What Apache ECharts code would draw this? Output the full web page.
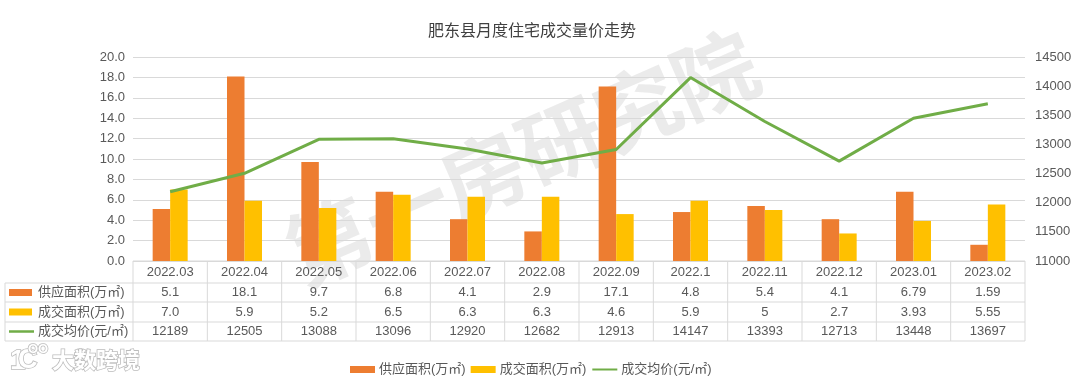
<!DOCTYPE html>
<html><head><meta charset="utf-8">
<style>html,body{margin:0;padding:0;background:#fff}#c{width:1080px;height:380px}</style>
<script src="https://cdn.jsdelivr.net/npm/echarts@6/dist/echarts.min.js"></script>
</head><body><div id="c"></div>
<script>
const categories=['2022.03','2022.04','2022.05','2022.06','2022.07','2022.08','2022.09','2022.1','2022.11','2022.12','2023.01','2023.02'];
const supply=[5.1,18.1,9.7,6.8,4.1,2.9,17.1,4.8,5.4,4.1,6.79,1.59];
const deal=[7.0,5.9,5.2,6.5,6.3,6.3,4.6,5.9,5,2.7,3.93,5.55];
const price=[12189,12505,13088,13096,12920,12682,12913,14147,13393,12713,13448,13697];
const supplyLabels=['5.1','18.1','9.7','6.8','4.1','2.9','17.1','4.8','5.4','4.1','6.79','1.59'];
const dealLabels=['7.0','5.9','5.2','6.5','6.3','6.3','4.6','5.9','5','2.7','3.93','5.55'];
const priceLabels=price.map(String);
const names=['供应面积(万㎡)','成交面积(万㎡)','成交均价(元/㎡)'];
const title='肥东县月度住宅成交量价走势';
const watermark='第一房研究院';
const logoText='大数跨境';

const FONT='"Liberation Sans","Noto Sans CJK SC",sans-serif';
const TXT='#595959', LINE='#d9d9d9';
const ORANGE='#ED7D31', YELLOW='#FFC000', GREEN='#70AD47';
const L=133,R=1025,T=57,B=261,W=(R-L)/12;
const rows=[261,283,302,322,341], tableLeft=5;
const g=[];
const ln=(x1,y1,x2,y2)=>g.push({type:'line',silent:true,shape:{x1,y1,x2,y2},style:{stroke:LINE,lineWidth:1},z:1});
const tx=(x,y,text,o={})=>g.push({type:'text',silent:true,x,y,z:3,style:Object.assign({text,font:'13px '+FONT,fill:TXT,align:'center',verticalAlign:'middle'},o)});
// watermark
g.push({type:'text',silent:true,x:522,y:158,rotation:0.41,z:0,style:{text:watermark,font:'bold 84px "Noto Sans CJK SC",sans-serif',fill:'rgba(190,190,190,0.3)',align:'center',verticalAlign:'middle'}});
// table frame
rows.slice(1).forEach(y=>ln(tableLeft,y,R,y));
ln(L,rows[0],R,rows[0]);
ln(tableLeft,rows[1],tableLeft,rows[4]);
for(let i=0;i<=12;i++)ln(L+W*i,rows[0],L+W*i,rows[4]);
categories.forEach((c,i)=>{
  const x=L+W*(i+.5);
  tx(x,(rows[0]+rows[1])/2,c);
  tx(x,(rows[1]+rows[2])/2,supplyLabels[i]);
  tx(x,(rows[2]+rows[3])/2,dealLabels[i]);
  tx(x,(rows[3]+rows[4])/2,priceLabels[i]);
});
[ORANGE,YELLOW].forEach((col,i)=>{
  const m=(rows[i+1]+rows[i+2])/2;
  g.push({type:'rect',silent:true,shape:{x:9,y:m-3.5,width:23,height:7},style:{fill:col},z:3});
});
g.push({type:'line',silent:true,shape:{x1:9,y1:331.5,x2:34,y2:331.5},style:{stroke:GREEN,lineWidth:2.5},z:3});
names.forEach((n,i)=>tx(38,(rows[i+1]+rows[i+2])/2,n,{align:'left'}));
// logo
const logoStyle={fill:'#fff',stroke:'#bcbcbc',lineWidth:1.6,align:'left',verticalAlign:'middle'};
g.push({type:'text',silent:true,x:52,y:360,z:3,style:Object.assign({text:logoText,font:'bold 22px "Noto Sans CJK SC",sans-serif'},logoStyle)});
g.push({type:'text',silent:true,x:10,y:361,z:3,style:Object.assign({text:'1',font:'bold 28px "Liberation Sans",sans-serif'},logoStyle)});
g.push({type:'text',silent:true,x:18,y:361,z:3,style:Object.assign({text:'C',font:'bold 27px "Liberation Sans",sans-serif'},logoStyle)});
g.push({type:'text',silent:true,x:28,y:349,z:3,style:Object.assign({text:'OO',font:'bold 13px "Liberation Sans",sans-serif'},logoStyle)});

const chart=echarts.init(document.getElementById('c'),null,{renderer:'canvas'});
chart.setOption({
  animation:false,backgroundColor:'#fff',textStyle:{fontFamily:FONT},
  title:{text:title,left:527,top:19,textAlign:'center',textStyle:{fontFamily:FONT,fontSize:16,fontWeight:'normal',color:'#404040'}},
  legend:{left:345,top:358,itemWidth:25,itemHeight:7,itemGap:5,textStyle:{fontFamily:FONT,fontSize:13,color:TXT,padding:[0,0,0,-1]},
    data:[{name:names[0],icon:'rect'},{name:names[1],icon:'rect'},{name:names[2],itemStyle:{opacity:0}}]},
  grid:{left:L,right:1080-R,top:T,bottom:380-B,containLabel:false},
  xAxis:{type:'category',data:categories,axisLabel:{show:false},axisTick:{show:false},axisLine:{show:false}},
  yAxis:[
   {type:'value',min:0,max:20,interval:2,axisLine:{show:false},axisTick:{show:false},
    splitLine:{lineStyle:{color:LINE,width:1}},axisLabel:{color:TXT,fontSize:13,margin:8,formatter:v=>v.toFixed(1)}},
   {type:'value',min:11000,max:14500,interval:500,axisLine:{show:false},axisTick:{show:false},
    splitLine:{show:false},axisLabel:{color:TXT,fontSize:13,margin:10,formatter:v=>String(v)}}
  ],
  series:[
   {name:names[0],type:'bar',data:supply,barWidth:17.5,barGap:0,itemStyle:{color:ORANGE},z:2},
   {name:names[1],type:'bar',data:deal,barWidth:17.5,barGap:0,itemStyle:{color:YELLOW},z:2},
   {name:names[2],type:'line',yAxisIndex:1,data:price,symbol:'none',lineStyle:{color:GREEN,width:3},itemStyle:{color:GREEN},z:4}
  ],
  graphic:{elements:g}
});
</script></body></html>
